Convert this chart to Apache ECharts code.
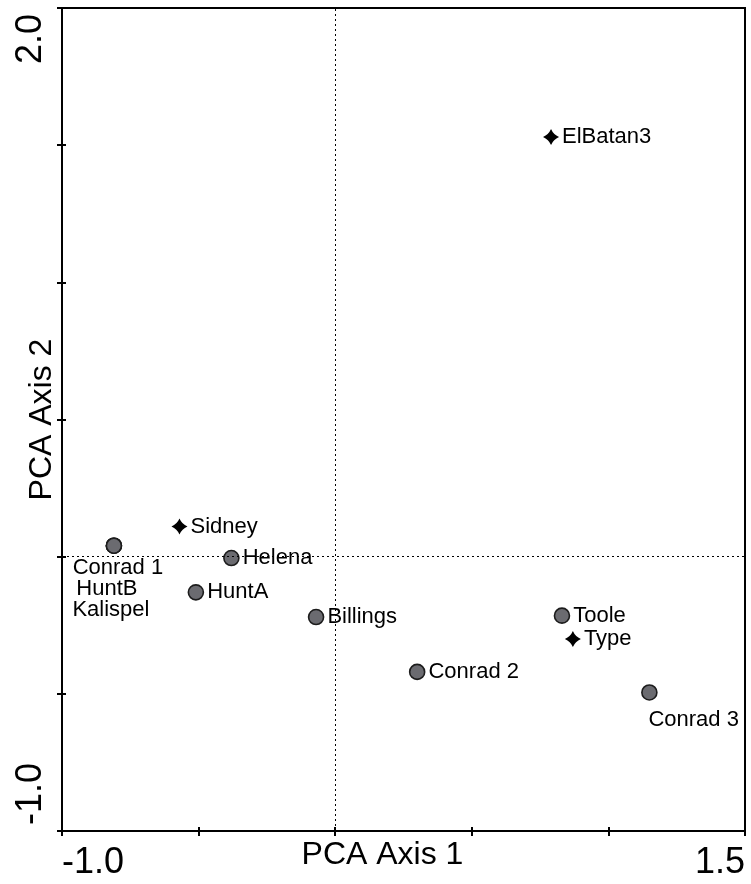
<!DOCTYPE html>
<html>
<head>
<meta charset="utf-8">
<script src="https://cdn.jsdelivr.net/npm/echarts@6/dist/echarts.min.js"></script>
<style>
  html, body { margin: 0; padding: 0; background: #fff; }
  #chart { width: 751px; height: 884px; }
</style>
</head>
<body>
<div id="chart"></div>
<script>
// Sample sites (grey circles)
var siteNames = ['Conrad 1', 'HuntB', 'Kalispel', 'Helena', 'HuntA', 'Billings', 'Conrad 2', 'Toole', 'Conrad 3'];
var sitePC1 = [-0.81, -0.81, -0.81, -0.38, -0.51, -0.07, 0.30, 0.83, 1.15];
var sitePC2 = [0.04, 0.04, 0.04, -0.005, -0.13, -0.22, -0.42, -0.215, -0.495];

// Reference specimens (black four-point stars)
var refNames = ['Sidney', 'ElBatan3', 'Type'];
var refPC1 = [-0.57, 0.79, 0.87];
var refPC2 = [0.11, 1.53, -0.30];

// Axis extents and tick step
var xRange = [-1.0, 1.5];
var yRange = [-1.0, 2.0];
var tickStep = 0.5;

var FONT = "'Liberation Sans', Arial, sans-serif";

// Label placement per point name
var labelPlacement = {
  'Conrad 1': { position: 'bottom', distance: 3, offset: [4, 0] },
  'HuntB':    { position: 'bottom', distance: 3, offset: [-7, 21] },
  'Kalispel': { position: 'bottom', distance: 3, offset: [-3, 42] },
  'Conrad 3': { position: 'bottom', distance: 8, align: 'left', offset: [-1, 0] }
};

function buildPoints(names, xs, ys) {
  return names.map(function (n, i) {
    var item = { name: n, value: [xs[i], ys[i]] };
    if (labelPlacement[n]) item.label = labelPlacement[n];
    return item;
  });
}

var starPath = 'path://M0,-10 Q3,-3 10,0 Q3,3 0,10 Q-3,3 -10,0 Q-3,-3 0,-10 Z';

// Only the two end values of each axis carry a label
function endLabelFor(range) {
  return function (v) {
    return (Math.abs(v - range[0]) < 1e-9 || Math.abs(v - range[1]) < 1e-9) ? v.toFixed(1) : '';
  };
}

var gridRect = { left: 62, top: 8, right: 6, bottom: 53, containLabel: false, outerBoundsMode: 'none' };

var pointLabel = {
  show: true,
  position: 'right',
  distance: 3,
  formatter: '{b}',
  color: '#000',
  fontFamily: FONT,
  fontSize: 22
};

var option = {
  backgroundColor: '#fff',
  animation: false,
  grid: [
    Object.assign({ show: true, borderColor: '#000', borderWidth: 2, backgroundColor: 'transparent' }, gridRect),
    Object.assign({}, gridRect)
  ],
  xAxis: [
    {
      type: 'value', gridIndex: 0,
      min: xRange[0], max: xRange[1], interval: tickStep,
      name: 'PCA Axis 1', nameLocation: 'middle', nameGap: 8, nameMoveOverlap: false,
      nameTextStyle: { fontFamily: FONT, fontSize: 32, color: '#000', padding: [0, 42, 0, 0] },
      axisLine: { show: true, onZero: false, lineStyle: { color: '#000', width: 2 } },
      axisTick: { show: true, inside: false, length: 5, lineStyle: { color: '#000', width: 2 } },
      axisLabel: {
        show: true, margin: 14, formatter: endLabelFor(xRange),
        showMinLabel: true, showMaxLabel: true, hideOverlap: false,
        alignMinLabel: 'left', alignMaxLabel: 'right',
        fontFamily: FONT, fontSize: 36, color: '#000'
      },
      splitLine: { show: false }
    },
    {
      type: 'value', gridIndex: 1,
      min: xRange[0], max: xRange[1], interval: tickStep,
      axisLine: { show: false, onZero: false },
      axisTick: { show: true, inside: true, length: 4, lineStyle: { color: '#000', width: 2 } },
      axisLabel: { show: false },
      splitLine: { show: false }
    }
  ],
  yAxis: [
    {
      type: 'value', gridIndex: 0,
      min: yRange[0], max: yRange[1], interval: tickStep,
      name: 'PCA Axis 2', nameLocation: 'middle', nameGap: 4, nameMoveOverlap: false,
      nameTextStyle: { fontFamily: FONT, fontSize: 32, color: '#000' },
      axisLine: { show: true, onZero: false, lineStyle: { color: '#000', width: 2 } },
      axisTick: { show: true, inside: false, length: 5, lineStyle: { color: '#000', width: 2 } },
      axisLabel: {
        show: true, margin: 13, rotate: 90, formatter: endLabelFor(yRange),
        showMinLabel: true, showMaxLabel: true, hideOverlap: false,
        alignMinLabel: 'left', alignMaxLabel: 'right',
        padding: [0, 6, 0, 6],
        fontFamily: FONT, fontSize: 36, color: '#000'
      },
      splitLine: { show: false }
    },
    {
      type: 'value', gridIndex: 1,
      min: yRange[0], max: yRange[1], interval: tickStep,
      axisLine: { show: false, onZero: false },
      axisTick: { show: true, inside: true, length: 4, lineStyle: { color: '#000', width: 2 } },
      axisLabel: { show: false },
      splitLine: { show: false }
    }
  ],
  series: [
    {
      name: 'origin',
      type: 'scatter',
      xAxisIndex: 0, yAxisIndex: 0,
      data: [],
      silent: true,
      markLine: {
        silent: true,
        symbol: ['none', 'none'],
        label: { show: false },
        lineStyle: { color: '#000', width: 1, type: [2, 3] },
        data: [{ xAxis: 0 }, { yAxis: 0 }]
      }
    },
    {
      name: 'sites',
      type: 'scatter',
      xAxisIndex: 0, yAxisIndex: 0,
      symbol: 'circle',
      symbolSize: 15,
      itemStyle: { color: '#6b6b70', borderColor: '#1c1c1c', borderWidth: 1.6, opacity: 1 },
      label: pointLabel,
      data: buildPoints(siteNames, sitePC1, sitePC2)
    },
    {
      name: 'references',
      type: 'scatter',
      xAxisIndex: 0, yAxisIndex: 0,
      symbol: starPath,
      symbolSize: 16,
      itemStyle: { color: '#000', opacity: 1 },
      label: pointLabel,
      data: buildPoints(refNames, refPC1, refPC2)
    }
  ]
};

var chart = echarts.init(document.getElementById('chart'), null, { renderer: 'canvas' });
chart.setOption(option);
</script>
</body>
</html>
